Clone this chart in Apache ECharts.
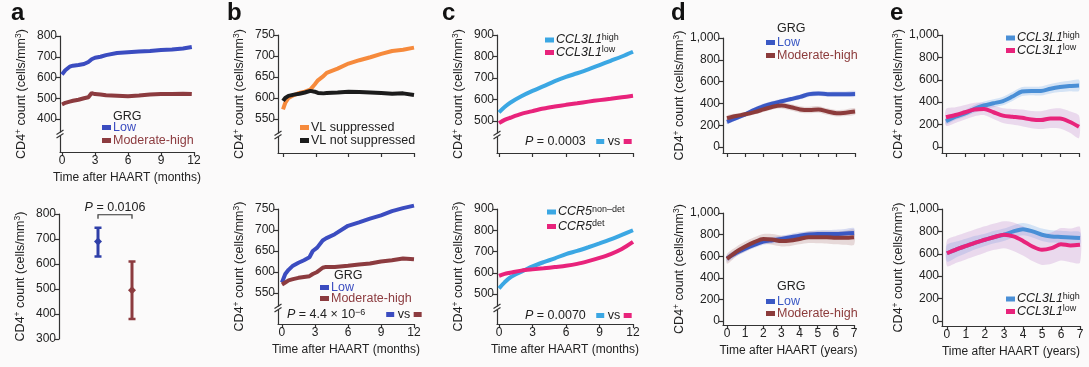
<!DOCTYPE html>
<html><head><meta charset="utf-8">
<script src="https://cdn.jsdelivr.net/npm/echarts@6/dist/echarts.min.js"></script>
<style>html,body{margin:0;padding:0;background:#fbfafa}#c{width:1089px;height:367px}</style>
</head><body><div id="c"></div>
<script>
// ---------------- DATA ----------------
const monthTicks = [0, 3, 6, 9, 12];
const yearTicks = [0, 1, 2, 3, 4, 5, 6, 7];
const aTopTicks = [400, 500, 600, 700, 800];
const aBotTicks = [300, 400, 500, 600, 700, 800];
const bTicks = [550, 600, 650, 700, 750];
const cTicks = [500, 600, 700, 800, 900];
const deTicks = [0, 200, 400, 600, 800, 1000];

// a (top): CD4 over months by GRG
const aTopX   = [0, 0.3, 0.7, 1, 1.5, 2, 2.4, 2.7, 3, 3.5, 4, 5, 6, 7, 8, 9, 10, 11, 11.8];
const aTopLow = [615, 635, 652, 657, 660, 665, 675, 688, 695, 700, 708, 718, 722, 725, 728, 732, 735, 740, 747];
const aTopMod = [470, 478, 484, 488, 493, 500, 505, 525, 520, 518, 514, 512, 510, 513, 518, 520, 520, 522, 520];

// a (bottom): mean and range
const aBotGroups = ['Low', 'Moderate-high'];
const aBotMean = [690, 495];
const aBotLo = [630, 380];
const aBotHi = [745, 610];
const aBotPText = '0.0106';
const aBotBracketLevel = 797;

// b (top): VL suppressed / not suppressed
const bTopX = [0, 0.2, 0.5, 1, 1.5, 2, 2.5, 2.9, 3.2, 3.7, 4, 5, 6, 7, 8, 9, 10, 11, 12];
const bTopSupp = [573, 588, 600, 607, 612, 615, 620, 632, 642, 652, 660, 670, 682, 690, 697, 705, 712, 715, 720];
const bTopNot  = [593, 600, 605, 608, 610, 613, 617, 615, 612, 611, 612, 613, 615, 614, 613, 612, 610, 611, 607];

// b (bottom): GRG
const bBotX = [0, 0.3, 0.6, 1, 1.5, 2, 2.5, 2.8, 3.2, 3.7, 4, 4.8, 6, 7, 8, 9, 10, 11, 12];
const bBotLow = [575, 595, 605, 615, 622, 628, 635, 650, 658, 675, 680, 690, 710, 718, 727, 735, 745, 752, 758];
const bBotMod = [570, 575, 580, 583, 586, 588, 590, 595, 600, 610, 612, 612, 615, 618, 620, 625, 628, 632, 630];

// c: CCL3L1 and CCR5
const cX = [0, 0.5, 1, 2, 3, 4, 5, 6, 7, 8, 9, 10, 11, 12];
const cTopHigh = [540, 565, 585, 615, 640, 662, 685, 705, 722, 740, 760, 780, 800, 822];
const cTopLow  = [490, 505, 515, 533, 546, 558, 567, 575, 582, 590, 597, 603, 610, 617];
const cBotNonDet = [527, 555, 578, 605, 630, 650, 668, 688, 703, 720, 738, 757, 778, 800];
const cBotDet    = [585, 595, 600, 610, 616, 621, 627, 633, 642, 655, 670, 688, 712, 745];

// d, e: years with bands
const yrsX = [0, 0.5, 1, 1.5, 2, 2.5, 3, 3.5, 4, 4.5, 5, 5.5, 6, 6.5, 7];
const dTopLow   = [230, 265, 300, 340, 375, 400, 420, 440, 460, 485, 490, 485, 485, 485, 487];
const dTopLowLo = [210, 245, 280, 318, 352, 378, 398, 418, 438, 462, 468, 462, 460, 460, 460];
const dTopLowHi = [250, 285, 320, 362, 398, 422, 442, 462, 482, 508, 512, 508, 510, 510, 514];
const dTopMod   = [265, 285, 300, 320, 345, 370, 380, 365, 345, 340, 345, 325, 310, 315, 325];
const dTopModLo = [240, 262, 278, 298, 322, 345, 352, 335, 315, 310, 315, 295, 280, 285, 295];
const dTopModHi = [290, 308, 322, 342, 368, 395, 408, 395, 375, 370, 375, 355, 340, 345, 355];

const dBotLow   = [580, 630, 670, 705, 735, 748, 760, 775, 790, 800, 805, 805, 805, 810, 815];
const dBotLowLo = [550, 600, 640, 675, 705, 718, 730, 744, 758, 768, 770, 768, 765, 768, 770];
const dBotLowHi = [610, 660, 700, 735, 765, 778, 790, 806, 822, 832, 840, 842, 845, 852, 860];
const dBotMod   = [575, 640, 690, 730, 760, 755, 740, 745, 760, 775, 775, 775, 770, 770, 775];
const dBotModLo = [530, 595, 645, 685, 715, 705, 690, 695, 710, 722, 720, 718, 710, 705, 705];
const dBotModHi = [620, 685, 735, 775, 805, 805, 790, 795, 810, 828, 830, 832, 830, 835, 845];

const eTopHigh   = [230, 270, 300, 340, 370, 390, 410, 450, 495, 500, 500, 520, 535, 545, 550];
const eTopHighLo = [200, 240, 270, 305, 335, 355, 372, 410, 455, 462, 460, 478, 490, 498, 500];
const eTopHighHi = [260, 300, 330, 375, 405, 425, 448, 490, 535, 538, 540, 562, 580, 592, 600];
const eTopLow    = [265, 285, 310, 335, 340, 310, 280, 270, 260, 245, 240, 255, 255, 225, 180];
const eTopLowLo  = [190, 215, 245, 275, 285, 250, 215, 200, 185, 168, 160, 170, 165, 130, 80];
const eTopLowHi  = [340, 355, 375, 395, 395, 370, 345, 340, 335, 322, 320, 340, 345, 320, 280];

const eBotHigh   = [605, 640, 670, 700, 725, 750, 770, 800, 820, 800, 770, 755, 750, 745, 740];
const eBotHighLo = [530, 570, 605, 640, 670, 695, 715, 745, 765, 745, 715, 700, 695, 690, 685];
const eBotHighHi = [680, 710, 735, 760, 780, 805, 825, 855, 875, 855, 825, 810, 805, 800, 795];
const eBotLow    = [605, 640, 670, 700, 725, 750, 770, 755, 715, 665, 635, 650, 685, 675, 680];
const eBotLowLo  = [490, 520, 550, 580, 610, 635, 650, 625, 585, 535, 500, 510, 540, 525, 520];
const eBotLowHi  = [720, 760, 790, 820, 845, 870, 890, 880, 845, 800, 775, 790, 830, 825, 840];

// ---------------- STYLE ----------------
const FONT = 'Liberation Sans, Arial, Helvetica, sans-serif';
const TXT = '#222';
const AX = '#333';
const COL = {
  blue: '#3b4cc0', brown: '#8c3b3f', orange: '#f68a3c', black: '#1c1c1c',
  sky: '#3ba7e3', pink: '#e8237b', dblue: '#3a58c4', dbrown: '#8c3b3b', eblue: '#4a8fd6'
};
const BAND = {
  dblue: 'rgba(80,105,210,0.22)', dbrown: 'rgba(150,80,80,0.2)',
  eblue: 'rgba(110,170,235,0.28)', epink: 'rgba(185,120,200,0.25)'
};

const yName = '{t|CD4}{s|+}{t| count (cells/mm}{s|3}{t|)}';
const yNameStyle = {
  fontFamily: FONT, color: TXT,
  rich: {
    t: { fontSize: 12.5, lineHeight: 15, color: TXT, fontFamily: FONT },
    s: { fontSize: 8.5, lineHeight: 7, verticalAlign: 'top', color: TXT, fontFamily: FONT }
  }
};

const layouts = [
  { g: [60, 36, 134, 116], x: [-0.18, 12], xt: monthTicks, xl: true, xn: 'Time after HAART (months)', y: [241, 800], yt: aTopTicks },
  { g: [81, 214, 68, 125], cat: true, y: [300, 800], yt: aBotTicks, yoff: 22 },
  { g: [278, 35, 136, 118], x: [-0.46, 12], xt: monthTicks, xl: false, y: [469, 750], yt: bTicks },
  { g: [278, 209, 136, 115], x: [-0.36, 12], xt: monthTicks, xl: true, xn: 'Time after HAART (months)', y: [476, 750], yt: bTicks },
  { g: [497, 35, 136, 118], x: [-0.18, 12], xt: monthTicks, xl: false, y: [351, 900], yt: cTicks },
  { g: [497, 209, 136, 115], x: [-0.18, 12], xt: monthTicks, xl: true, xn: 'Time after HAART (months)', y: [359, 900], yt: cTicks },
  { g: [723, 38, 132, 115], x: [-0.22, 7], xt: yearTicks, xl: false, y: [-55, 1000], yt: deTicks },
  { g: [723, 213, 131, 112], x: [-0.22, 7], xt: yearTicks, xl: true, xn: 'Time after HAART (years)', y: [-37, 1000], yt: deTicks },
  { g: [942, 35, 137, 118], x: [-0.21, 7], xt: yearTicks, xl: false, y: [-54, 1000], yt: deTicks },
  { g: [942, 209, 138, 117], x: [-0.26, 7], xt: yearTicks, xl: true, xn: 'Time after HAART (years)', y: [-45, 1000], yt: deTicks }
];

const grids = [], xAxes = [], yAxes = [];
layouts.forEach((L, i) => {
  grids.push({ left: L.g[0], top: L.g[1], width: L.g[2], height: L.g[3], containLabel: false });
  if (L.cat) {
    xAxes.push({ gridIndex: i, type: 'category', data: aBotGroups, show: false });
  } else {
    xAxes.push({
      gridIndex: i, type: 'value', min: L.x[0], max: L.x[1],
      axisLine: { show: true, onZero: false, lineStyle: { color: AX, width: 1.2 } },
      axisTick: { show: true, length: 4, customValues: L.xt, lineStyle: { color: AX, width: 1.2 } },
      axisLabel: { show: L.xl, customValues: L.xt, margin: 3, fontSize: 12, color: TXT, fontFamily: FONT },
      splitLine: { show: false },
      name: L.xn || '', nameLocation: 'middle', nameGap: 20,
      nameTextStyle: { fontSize: 12, color: TXT, fontFamily: FONT }
    });
  }
  yAxes.push({
    gridIndex: i, type: 'value', min: L.y[0], max: L.y[1], offset: L.yoff || 0,
    axisLine: { show: true, onZero: false, lineStyle: { color: AX, width: 1.2 } },
    axisTick: { show: true, length: 4, customValues: L.yt, lineStyle: { color: AX, width: 1.2 } },
    axisLabel: {
      customValues: L.yt, margin: 3, fontSize: 12, color: TXT, fontFamily: FONT,
      formatter: v => v >= 1000 ? (Math.floor(v / 1000) + ',' + String(v % 1000).padStart(3, '0')) : String(v)
    },
    splitLine: { show: false },
    name: yName, nameLocation: 'middle', nameGap: (L.yt === deTicks ? 36 : 31), nameRotate: 90,
    nameTextStyle: yNameStyle
  });
});

const zip = (xs, ys) => xs.map((x, i) => [x, ys[i]]);
function line(name, gi, xs, ys, color, width, smooth) {
  return {
    type: 'line', name, xAxisIndex: gi, yAxisIndex: gi, data: zip(xs, ys), clip: false,
    symbol: 'none', showSymbol: false, smooth: smooth || false,
    lineStyle: { color, width: width || 4 }, itemStyle: { color }, z: 4, animation: false, silent: true
  };
}
function band(gi, xs, lo, hi, color) {
  return {
    type: 'custom', xAxisIndex: gi, yAxisIndex: gi, z: 2, animation: false, silent: true, clip: false,
    data: xs.map((x, i) => [x, lo[i], hi[i]]),
    renderItem(params, api) {
      if (params.dataIndex !== 0) return null;
      const top = xs.map((x, i) => api.coord([x, hi[i]]));
      const bot = xs.map((x, i) => api.coord([x, lo[i]])).reverse();
      return { type: 'polygon', shape: { points: top.concat(bot), smooth: 0.25 }, style: { fill: color } };
    }
  };
}

const series = [
  line('aLow', 0, aTopX, aTopLow, COL.blue, 4),
  line('aMod', 0, aTopX, aTopMod, COL.brown, 4),
  {
    type: 'custom', xAxisIndex: 1, yAxisIndex: 1, animation: false, silent: true, clip: false,
    data: aBotGroups.map((g, i) => [i, aBotLo[i], aBotMean[i], aBotHi[i]]),
    renderItem(params, api) {
      const x = api.value(0);
      const c = ['#2f3fa8', COL.brown][params.dataIndex];
      const lo = api.coord([x, api.value(1)]), m = api.coord([x, api.value(2)]), hi = api.coord([x, api.value(3)]);
      return { type: 'group', children: [
        { type: 'line', shape: { x1: lo[0], y1: lo[1], x2: hi[0], y2: hi[1] }, style: { stroke: c, lineWidth: 3 } },
        { type: 'line', shape: { x1: lo[0] - 3.5, y1: lo[1], x2: lo[0] + 3.5, y2: lo[1] }, style: { stroke: c, lineWidth: 2.5 } },
        { type: 'line', shape: { x1: hi[0] - 3.5, y1: hi[1], x2: hi[0] + 3.5, y2: hi[1] }, style: { stroke: c, lineWidth: 2.5 } },
        { type: 'polygon', shape: { points: [[m[0], m[1] - 4], [m[0] + 4, m[1]], [m[0], m[1] + 4], [m[0] - 4, m[1]]] }, style: { fill: c } }
      ]};
    }
  },
  {
    type: 'custom', xAxisIndex: 1, yAxisIndex: 1, animation: false, silent: true, clip: false,
    data: [[0, 1, aBotBracketLevel]],
    renderItem(params, api) {
      const p0 = api.coord([api.value(0), api.value(2)]);
      const p1 = api.coord([api.value(1), api.value(2)]);
      return { type: 'group', children: [
        { type: 'polyline', shape: { points: [[p0[0], p0[1] + 4], [p0[0], p0[1]], [p1[0], p1[1]], [p1[0], p1[1] + 4]] },
          style: { stroke: '#333', lineWidth: 1.2, fill: null } },
        { type: 'text', x: (p0[0] + p1[0]) / 2, y: p0[1] - 1,
          style: { text: '{i|P} = ' + aBotPText, align: 'center', verticalAlign: 'bottom', fontSize: 12.5, fontFamily: FONT, fill: TXT,
            rich: { i: { fontStyle: 'italic', fontSize: 12.5, fontFamily: FONT, fill: TXT } } } }
      ]};
    }
  },
  line('bSupp', 2, bTopX, bTopSupp, COL.orange, 4),
  line('bNot', 2, bTopX, bTopNot, COL.black, 4),
  line('bLow', 3, bBotX, bBotLow, COL.blue, 4),
  line('bMod', 3, bBotX, bBotMod, COL.brown, 4),
  line('cHigh', 4, cX, cTopHigh, COL.sky, 4, 0.3),
  line('cLow', 4, cX, cTopLow, COL.pink, 4, 0.3),
  line('cNonDet', 5, cX, cBotNonDet, COL.sky, 4, 0.3),
  line('cDet', 5, cX, cBotDet, COL.pink, 4, 0.3),
  band(6, yrsX, dTopLowLo, dTopLowHi, BAND.dblue),
  band(6, yrsX, dTopModLo, dTopModHi, BAND.dbrown),
  line('dLow', 6, yrsX, dTopLow, COL.dblue, 4, 0.3),
  line('dMod', 6, yrsX, dTopMod, COL.dbrown, 4, 0.3),
  band(7, yrsX, dBotModLo, dBotModHi, BAND.dbrown),
  band(7, yrsX, dBotLowLo, dBotLowHi, BAND.dblue),
  line('dLow2', 7, yrsX, dBotLow, COL.dblue, 4, 0.3),
  line('dMod2', 7, yrsX, dBotMod, COL.dbrown, 4, 0.3),
  band(8, yrsX, eTopHighLo, eTopHighHi, BAND.eblue),
  band(8, yrsX, eTopLowLo, eTopLowHi, BAND.epink),
  line('eHigh', 8, yrsX, eTopHigh, COL.eblue, 4, 0.3),
  line('eLow', 8, yrsX, eTopLow, COL.pink, 4, 0.3),
  band(9, yrsX, eBotHighLo, eBotHighHi, BAND.eblue),
  band(9, yrsX, eBotLowLo, eBotLowHi, BAND.epink),
  line('eHigh2', 9, yrsX, eBotHigh, COL.eblue, 4, 0.3),
  line('eLow2', 9, yrsX, eBotLow, COL.pink, 4, 0.3)
];

// legends
const legendText = {
  aLow: 'Low', aMod: 'Moderate-high', bLow: 'Low', bMod: 'Moderate-high', dLow: 'Low', dMod: 'Moderate-high',
  dLow2: 'Low', dMod2: 'Moderate-high',
  bSupp: 'VL suppressed', bNot: 'VL not suppressed',
  cHigh: '{i|CCL3L1}{s|high}', cLow: '{i|CCL3L1}{s|low}', cNonDet: '{i|CCR5}{s|non\u2013det}', cDet: '{i|CCR5}{s|det}',
  eHigh: '{i|CCL3L1}{s|high}', eLow: '{i|CCL3L1}{s|low}', eHigh2: '{i|CCL3L1}{s|high}', eLow2: '{i|CCL3L1}{s|low}'
};
const legRich = (color) => ({
  n: { fontSize: 12.5, lineHeight: 14, color, fontFamily: FONT },
  i: { fontSize: 12.5, lineHeight: 14, fontStyle: 'italic', color, fontFamily: FONT },
  s: { fontSize: 9, lineHeight: 6, verticalAlign: 'top', color, fontFamily: FONT }
});
function legend(left, top, gap, items) {
  return {
    left, top, orient: 'vertical', itemGap: gap, itemWidth: 9, itemHeight: 5, icon: 'rect', padding: 0,
    selectedMode: false,
    data: items.map(([name, color, tcolor]) => ({
      name, itemStyle: { color },
      textStyle: { color: tcolor, rich: legRich(tcolor) }
    })),
    formatter: n => legendText[n].indexOf('{') === 0 ? legendText[n] : '{n|' + legendText[n] + '}',
    textStyle: { fontSize: 12.5, fontFamily: FONT, padding: [0, 0, 0, -3] }
  };
}
const legends = [
  legend(102, 121, 0, [['aLow', COL.blue, COL.blue], ['aMod', COL.brown, COL.brown]]),
  legend(300, 121, 0, [['bSupp', COL.orange, TXT], ['bNot', COL.black, TXT]]),
  legend(320, 281, -2, [['bLow', COL.blue, COL.blue], ['bMod', COL.brown, COL.brown]]),
  legend(545, 33, -1, [['cHigh', COL.sky, TXT], ['cLow', COL.pink, TXT]]),
  legend(547, 205, 1, [['cNonDet', COL.sky, TXT], ['cDet', COL.pink, TXT]]),
  legend(766, 36, 0, [['dLow', COL.dblue, COL.dblue], ['dMod', COL.dbrown, COL.dbrown]]),
  legend(766, 295, -1, [['dLow2', COL.dblue, COL.dblue], ['dMod2', COL.dbrown, COL.dbrown]]),
  legend(1006, 31, -1, [['eHigh', COL.eblue, TXT], ['eLow', COL.pink, TXT]]),
  legend(1006, 292, -1, [['eHigh2', COL.eblue, TXT], ['eLow2', COL.pink, TXT]])
];

const pRich = (c1, c2) => ({
  i: { fontStyle: 'italic', fontSize: 12.5, fontFamily: FONT, color: TXT },
  t: { fontSize: 12.5, fontFamily: FONT, color: TXT },
  s: { fontSize: 9, lineHeight: 6, verticalAlign: 'top', fontFamily: FONT, color: TXT },
  b: { backgroundColor: c1, width: 8, height: 5 },
  r: { backgroundColor: c2, width: 8, height: 5 }
});
const titleBase = { padding: 0, textStyle: { fontFamily: FONT, color: TXT, fontSize: 12.5, fontWeight: 'normal' } };
const letter = (t, left) => ({ text: t, left, top: 1, padding: 0, textStyle: { fontFamily: FONT, fontSize: 24, fontWeight: 'bold', color: '#111' } });
const titles = [
  letter('a', 11), letter('b', 227), letter('c', 442), letter('d', 671), letter('e', 890),
  { ...titleBase, text: 'GRG', left: 113, top: 110 },
  { ...titleBase, text: 'GRG', left: 334, top: 269 },
  { ...titleBase, text: 'GRG', left: 777, top: 22 },
  { ...titleBase, text: 'GRG', left: 777, top: 280 },
  { ...titleBase, left: 287, top: 308, text: '{i|P}{t| = 4.4 \u00d7 10}{s|\u22126}{t|      }{b|}{t| vs }{r|}', textStyle: { ...titleBase.textStyle, rich: pRich(COL.blue, COL.brown) } },
  { ...titleBase, left: 525, top: 135, text: '{i|P}{t| = 0.0003   }{b|}{t| vs }{r|}', textStyle: { ...titleBase.textStyle, rich: pRich(COL.sky, COL.pink) } },
  { ...titleBase, left: 525, top: 309, text: '{i|P}{t| = 0.0070   }{b|}{t| vs }{r|}', textStyle: { ...titleBase.textStyle, rich: pRich(COL.sky, COL.pink) } }
];

// axis-break marks (decoration on the y axis)
const breakAt = [[60, 134], [278, 135], [278, 308], [497, 135], [497, 308]];
const graphics = [];
breakAt.forEach(([x, y]) => {
  graphics.push({ type: 'rect', shape: { x: x - 2, y: y - 1.5, width: 4, height: 3 }, style: { fill: '#fbfafa' }, z: 100 });
  graphics.push({ type: 'line', shape: { x1: x - 3.5, y1: y + 0.5, x2: x + 3.5, y2: y - 4 }, style: { stroke: AX, lineWidth: 1.2 }, z: 101 });
  graphics.push({ type: 'line', shape: { x1: x - 3.5, y1: y + 4, x2: x + 3.5, y2: y - 0.5 }, style: { stroke: AX, lineWidth: 1.2 }, z: 101 });
});

const chart = echarts.init(document.getElementById('c'), null, { renderer: 'canvas' });
chart.setOption({
  backgroundColor: '#fbfafa',
  animation: false,
  textStyle: { fontFamily: FONT },
  title: titles,
  legend: legends,
  grid: grids,
  xAxis: xAxes,
  yAxis: yAxes,
  series,
  graphic: graphics
});
</script>
</body></html>
